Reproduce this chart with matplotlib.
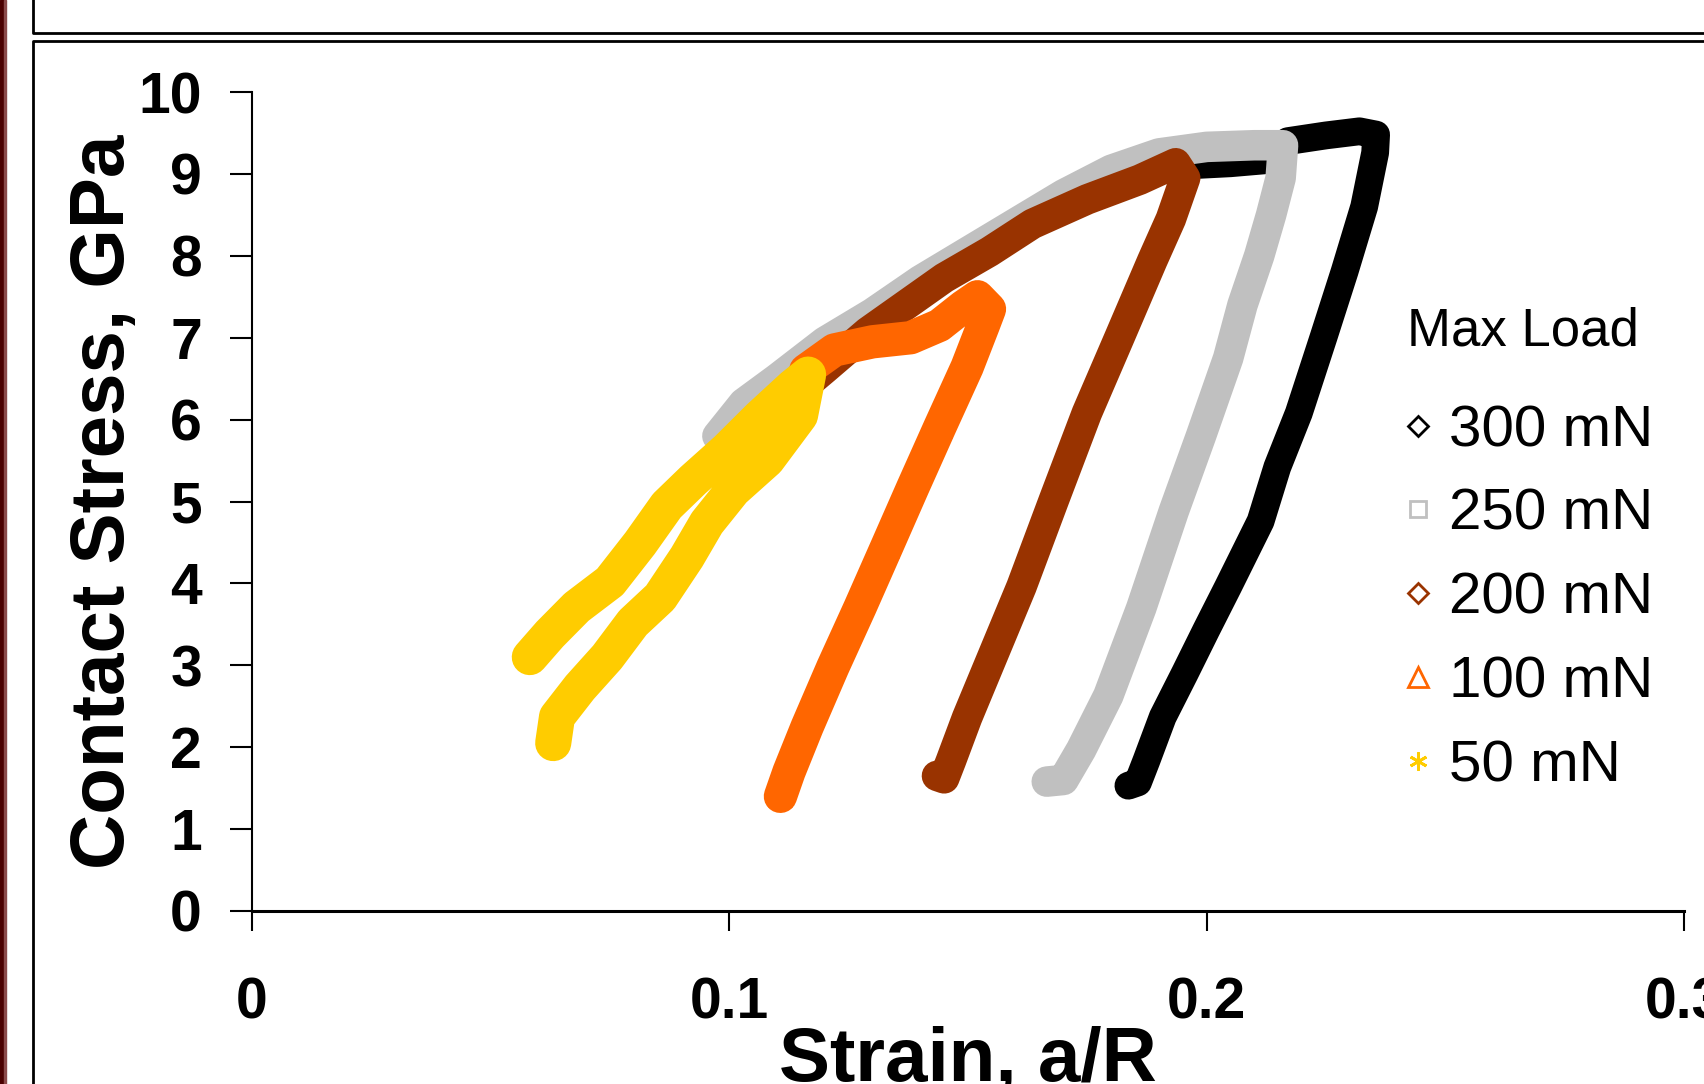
import matplotlib.pyplot as plt
from matplotlib.lines import Line2D
from matplotlib.patches import Rectangle

plt.rcParams['font.family'] = ['Liberation Sans', 'DejaVu Sans']

# strain a/R and contact stress (GPa); loading branch followed by unloading branch
strain_300 = [0.1045, 0.115, 0.125, 0.135, 0.145, 0.155, 0.165, 0.175, 0.185, 0.195, 0.205,
              0.213, 0.217, 0.225, 0.232, 0.2355, 0.2353, 0.233, 0.2289, 0.2245, 0.2193,
              0.2148, 0.2113, 0.2045, 0.1999, 0.1954, 0.1908, 0.1874, 0.1856, 0.1836]
stress_300 = [6.15, 6.6, 7.05, 7.45, 7.85, 8.2, 8.55, 8.85, 9.02, 9.1, 9.13,
              9.17, 9.4, 9.47, 9.52, 9.48, 9.26, 8.6, 7.81, 7.01, 6.08,
              5.42, 4.76, 3.96, 3.43, 2.9, 2.37, 1.84, 1.57, 1.53]

strain_250 = [0.0975, 0.103, 0.11, 0.12, 0.13, 0.14, 0.15, 0.16, 0.17, 0.18, 0.19, 0.2,
              0.21, 0.216, 0.2155, 0.2135, 0.211, 0.2075, 0.2045, 0.1988, 0.1931, 0.1863,
              0.1794, 0.1737, 0.170, 0.1665]
stress_250 = [5.8, 6.2, 6.5, 6.95, 7.3, 7.7, 8.05, 8.4, 8.75, 9.05, 9.25, 9.33,
              9.35, 9.35, 8.95, 8.5, 8.0, 7.4, 6.75, 5.8, 4.88, 3.7,
              2.63, 1.97, 1.6, 1.58]

strain_200 = [0.1145, 0.12, 0.129, 0.137, 0.145, 0.1545, 0.1635, 0.175, 0.186, 0.1935,
              0.1955, 0.1925, 0.1886, 0.1817, 0.1749, 0.168, 0.1612, 0.1555, 0.1498,
              0.1464, 0.145, 0.1435]
stress_200 = [6.35, 6.62, 7.07, 7.4, 7.73, 8.05, 8.39, 8.69, 8.93, 9.13,
              8.95, 8.45, 7.94, 7.0, 6.08, 5.02, 3.96, 3.16, 2.36,
              1.83, 1.62, 1.65]

strain_100 = [0.116, 0.122, 0.13, 0.138, 0.144, 0.149, 0.152, 0.1545, 0.1532, 0.1498,
              0.1441, 0.1385, 0.133, 0.1274, 0.1217, 0.1163, 0.1125, 0.1107]
stress_100 = [6.6, 6.85, 6.95, 7.0, 7.15, 7.38, 7.5, 7.35, 7.15, 6.64,
              5.91, 5.18, 4.45, 3.71, 2.98, 2.25, 1.7, 1.4]

strain_50 = [0.0582, 0.0624, 0.068, 0.075, 0.0813, 0.0869, 0.0924, 0.0995, 0.1064, 0.1133,
             0.1165, 0.1148, 0.1079, 0.1008, 0.0953, 0.0911, 0.0855, 0.0798, 0.0744,
             0.0687, 0.0639, 0.0631]
stress_50 = [3.1, 3.38, 3.71, 4.02, 4.49, 4.95, 5.26, 5.63, 6.03, 6.4,
             6.55, 6.05, 5.51, 5.14, 4.74, 4.32, 3.83, 3.52, 3.1,
             2.73, 2.37, 2.05]

labels = ['300 mN', '250 mN', '200 mN', '100 mN', '50 mN']
colors = ['#000000', '#C0C0C0', '#993300', '#FF6600', '#FFCC00']
markers = ['D', 's', 'D', '^', (6, 2, 0)]
msizes = [10.5, 12, 10.5, 15, 13]
bands = [20, 22, 22, 24, 26]
series = [(strain_300, stress_300), (strain_250, stress_250), (strain_200, stress_200),
          (strain_100, stress_100), (strain_50, stress_50)]

W, H = 1704, 1084
fig = plt.figure(figsize=(W / 100, H / 100), dpi=100)
ax = fig.add_axes([252 / W, 1 - 911 / H, 1432 / W, 819 / H])

for i, (x, y) in enumerate(series):
    ax.plot(x, y, color=colors[i], lw=bands[i], solid_joinstyle='round',
            solid_capstyle='round', zorder=2 + i)
    ax.plot(x, y, ls='none', marker=markers[i], ms=msizes[i], mec=colors[i],
            mfc='none', mew=2.0, label=labels[i], zorder=2 + i)

ax.set_xlim(0, 0.3)
ax.set_ylim(0, 10)
ax.set_xticks([0, 0.1, 0.2, 0.3])
ax.set_xticklabels(['0', '0.1', '0.2', '0.3'])
ax.set_yticks(range(0, 11))
for s in ['top', 'right']:
    ax.spines[s].set_visible(False)
ax.spines['left'].set_linewidth(1.5)
ax.spines['bottom'].set_linewidth(2.2)
ax.tick_params(axis='y', direction='out', length=16, width=1.5, pad=20,
               labelsize=41)
ax.tick_params(axis='x', direction='out', length=14.5, width=1.5, pad=33,
               labelsize=41)
for t in ax.get_xticklabels() + ax.get_yticklabels():
    t.set_fontweight('bold')

ax.set_xlabel('Strain, a/R', fontsize=55, fontweight='bold', va='top')
ax.xaxis.set_label_coords(0.5, -0.141)
ax.set_ylabel('Contact Stress, GPa', fontsize=55, fontweight='bold', va='center')
ax.yaxis.set_label_coords(-0.103, 0.5)

fig.text(1407 / W, 1 - 331 / H, 'Max Load', fontsize=38, ha='left', va='center')
ax.legend(loc='upper left', bbox_to_anchor=(1400 / W, 1 - 404 / H),
          bbox_transform=fig.transFigure, frameon=False, fontsize=42,
          borderpad=0, borderaxespad=0, handlelength=0.6, handletextpad=0.24,
          labelspacing=0.51)

# slide frame around the chart
def fline(xs, ys):
    fig.add_artist(Line2D([v / W for v in xs], [1 - v / H for v in ys], color='black',
                          lw=2.0, transform=fig.transFigure))
fline([33, 33, W], [0, 33, 33])
fline([W, 33, 33], [41, 41, H])
fig.add_artist(Rectangle((0, 0), 4 / W, 1, color='#4a0000', transform=fig.transFigure))
fig.add_artist(Rectangle((4 / W, 0), 2 / W, 1, color='#8a4a4a', transform=fig.transFigure))

fig.savefig('out.png', dpi=100)
